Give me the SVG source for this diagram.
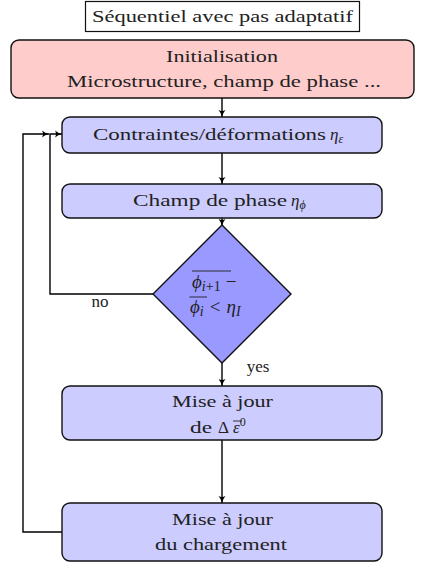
<svg xmlns="http://www.w3.org/2000/svg" width="425" height="565" viewBox="0 0 425 565" font-family="'DejaVu Serif', serif">
<style>
text{font-family:'Liberation Serif','Times New Roman','DejaVu Serif',serif;font-size:17px;fill:#222;}
.box{stroke:#111;stroke-width:1.4;}
.step{fill:#ccccff;}
.conn{fill:none;stroke:#000;stroke-width:1.4;}
.mi{font-style:italic;}
.sub{font-size:12px;font-style:italic;}
.m{font-size:19px;}
.msub{font-size:14px;font-style:italic;}
.ov{stroke:#222;stroke-width:0.9;}
</style>
<defs>
<marker id="ah" markerWidth="10" markerHeight="10" refX="8" refY="5" orient="auto" markerUnits="userSpaceOnUse">
<path d="M1,1.5 Q4,4.2 8,5 Q4,5.8 1,8.5 Q3,5 1,1.5 Z" fill="#000"/>
</marker>
</defs>
<g id="title">
<rect x="85.5" y="1.5" width="274" height="30" fill="#fff" stroke="#111" stroke-width="1.2"/>
<text x="222.5" y="22" text-anchor="middle" textLength="261" lengthAdjust="spacingAndGlyphs">Séquentiel avec pas adaptatif</text>
</g>
<g id="connectors">
<line class="conn" x1="222" y1="98" x2="222" y2="117" marker-end="url(#ah)"/>
<line class="conn" x1="222" y1="153" x2="222" y2="184" marker-end="url(#ah)"/>
<line class="conn" x1="222" y1="218" x2="222" y2="226" marker-end="url(#ah)"/>
<line class="conn" x1="222" y1="363" x2="222" y2="386" marker-end="url(#ah)"/>
<line class="conn" x1="222" y1="440" x2="222" y2="503" marker-end="url(#ah)"/>
<polyline class="conn" points="153,294 50,294 50,134 62,134" marker-end="url(#ah)"/>
<polyline class="conn" points="62,532 23,532 23,134 49,134" marker-end="url(#ah)"/>
<text x="100" y="307" text-anchor="middle">no</text>
<text x="258" y="372" text-anchor="middle">yes</text>
</g>
<g id="init">
<rect class="box" x="11" y="40" width="403" height="58" rx="8" fill="#ffcccc"/>
<text x="222" y="62" text-anchor="middle" textLength="112" lengthAdjust="spacingAndGlyphs">Initialisation</text>
<text x="224" y="87" text-anchor="middle" textLength="314" lengthAdjust="spacingAndGlyphs">Microstructure, champ de phase ...</text>
</g>
<g id="contraintes">
<rect class="box step" x="62" y="117" width="320" height="36" rx="8"/>
<text x="93" y="140" textLength="233" lengthAdjust="spacingAndGlyphs">Contraintes/déformations</text>
<text x="330" y="140"><tspan class="mi">η</tspan><tspan class="sub" dy="3">ε</tspan></text>
</g>
<g id="champ">
<rect class="box step" x="62" y="184" width="320" height="34" rx="8"/>
<text x="133" y="206" textLength="154" lengthAdjust="spacingAndGlyphs">Champ de phase</text>
<text x="291" y="206"><tspan class="mi">η</tspan><tspan class="sub" dy="3">ϕ</tspan></text>
</g>
<g id="test">
<polygon class="box" points="222,225 291,294 222,363 153,294" fill="#9999ff"/>
<text x="192" y="288" class="m"><tspan class="mi">ϕ</tspan><tspan class="msub" dy="3">i</tspan><tspan font-size="14px">+1</tspan><tspan dy="-3" dx="5">−</tspan></text>
<line class="ov" x1="192" y1="271" x2="231" y2="271"/>
<text x="190" y="313" class="m"><tspan class="mi">ϕ</tspan><tspan class="msub" dy="3">i</tspan><tspan dy="-3" dx="6">&lt;</tspan><tspan class="mi" dx="6">η</tspan><tspan class="msub" dy="3">I</tspan></text>
<line class="ov" x1="189.5" y1="297" x2="207" y2="297"/>
</g>
<g id="maj-eps">
<rect class="box step" x="62" y="386" width="320" height="54" rx="8"/>
<text x="222.5" y="407" text-anchor="middle" textLength="101" lengthAdjust="spacingAndGlyphs">Mise à jour</text>
<text x="190" y="433" textLength="22" lengthAdjust="spacingAndGlyphs">de</text>
<text x="218" y="433">Δ<tspan class="mi" x="233">ε</tspan><tspan font-size="12px" dy="-7">0</tspan></text>
<line class="ov" x1="233" y1="421" x2="242" y2="421"/>
</g>
<g id="maj-charg">
<rect class="box step" x="62" y="503" width="320" height="58" rx="8"/>
<text x="222.5" y="525" text-anchor="middle" textLength="101" lengthAdjust="spacingAndGlyphs">Mise à jour</text>
<text x="221" y="550" text-anchor="middle" textLength="132" lengthAdjust="spacingAndGlyphs">du chargement</text>
</g>
</svg>
